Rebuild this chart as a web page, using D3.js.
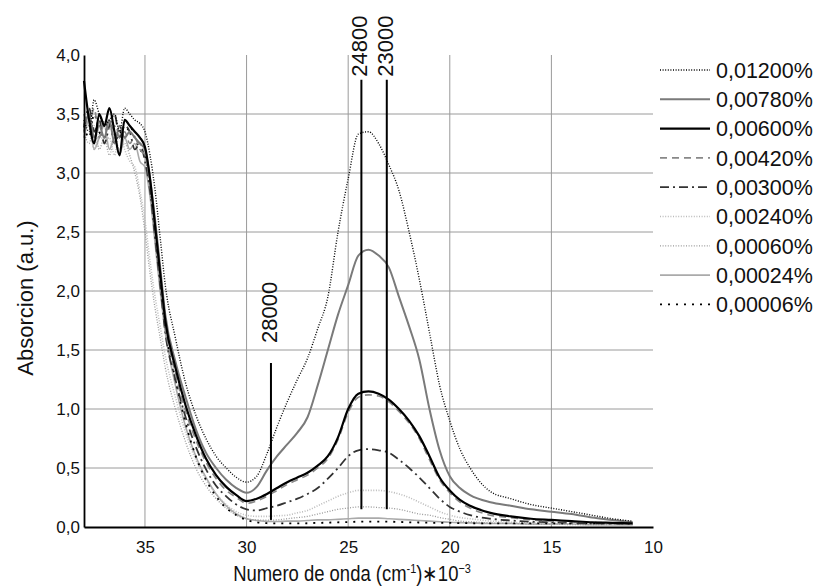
<!DOCTYPE html>
<html lang="es">
<head>
    <meta charset="UTF-8">
    <title>Absorcion</title>
    <script src="https://cdnjs.cloudflare.com/ajax/libs/d3/7.8.5/d3.min.js"></script>
    <style>
        body { margin: 0; background: #fff; }
        svg text { font-family: "Liberation Sans", Arial, sans-serif; fill: #111; }
    </style>
</head>
<body>
<div id="chart"></div>
<script>
// wave numbers (cm-1 * 10^-3)
const waveNumbers = [38, 37.75, 37.5, 37.25, 37, 36.75, 36.5, 36.25, 36, 35.75, 35.5, 35.25, 35,
    34.75, 34.5, 34.25, 34, 33.5, 33, 32.5, 32, 31.5, 31, 30.5, 30, 29.5, 29, 28.5, 28, 27.5, 27,
    26.5, 26, 25.5, 25, 24.5, 24, 23.5, 23, 22.5, 22, 21.5, 21, 20.5, 20, 19.5, 19, 18, 17, 16, 15,
    14, 13, 12, 11];

const seriesNames = ["0,01200%", "0,00780%", "0,00600%", "0,00420%", "0,00300%",
    "0,00240%", "0,00060%", "0,00024%", "0,00006%"];

const s01200 = [3.45, 3.35, 3.62, 3.5, 3.4, 3.45, 3.5, 3.35, 3.55, 3.5, 3.45, 3.42, 3.35,
    3.15, 2.85, 2.45, 2.05, 1.6, 1.22, 0.95, 0.75, 0.6, 0.5, 0.42, 0.38, 0.43, 0.62, 0.85, 1.06, 1.25, 1.43,
    1.68, 1.95, 2.5, 2.95, 3.33, 3.35, 3.25, 3.07, 2.85, 2.5, 2.1, 1.65, 1.2, 0.9, 0.66, 0.5, 0.3, 0.24, 0.19, 0.16,
    0.13, 0.1, 0.07, 0.05];
const s00780 = [3.35, 3.5, 3.3, 3.4, 3.3, 3.45, 3.25, 3.4, 3.3, 3.35, 3.3, 3.25, 3.2,
    2.95, 2.6, 2.2, 1.8, 1.4, 1.1, 0.83, 0.63, 0.5, 0.4, 0.33, 0.29, 0.34, 0.48, 0.6, 0.7, 0.8, 0.93,
    1.2, 1.5, 1.8, 2.05, 2.3, 2.35, 2.3, 2.2, 1.95, 1.7, 1.42, 1.0, 0.65, 0.43, 0.33, 0.27, 0.21, 0.18, 0.15, 0.13,
    0.11, 0.08, 0.06, 0.04];
const s00600 = [3.78, 3.45, 3.25, 3.5, 3.4, 3.55, 3.35, 3.15, 3.45, 3.4, 3.35, 3.3, 3.22,
    2.95, 2.55, 2.15, 1.75, 1.35, 1.03, 0.78, 0.58, 0.44, 0.34, 0.27, 0.22, 0.24, 0.28, 0.33, 0.38, 0.42, 0.46,
    0.52, 0.6, 0.76, 1.0, 1.13, 1.15, 1.13, 1.08, 1.0, 0.9, 0.77, 0.6, 0.42, 0.31, 0.23, 0.18, 0.12, 0.09, 0.07, 0.06,
    0.05, 0.04, 0.035, 0.03];
const s00420 = [3.5, 3.4, 3.55, 3.3, 3.45, 3.35, 3.4, 3.3, 3.35, 3.25, 3.3, 3.2, 3.15,
    2.9, 2.5, 2.1, 1.7, 1.3, 0.98, 0.74, 0.55, 0.41, 0.31, 0.25, 0.2, 0.22, 0.26, 0.31, 0.36, 0.4, 0.44,
    0.5, 0.58, 0.74, 0.97, 1.1, 1.12, 1.11, 1.06, 0.98, 0.88, 0.75, 0.57, 0.4, 0.29, 0.21, 0.16, 0.1, 0.08, 0.06, 0.05,
    0.045, 0.04, 0.035, 0.03];
const s00300 = [3.4, 3.55, 3.35, 3.45, 3.25, 3.4, 3.5, 3.3, 3.4, 3.35, 3.2, 3.25, 3.1,
    2.85, 2.45, 2.05, 1.65, 1.25, 0.93, 0.68, 0.49, 0.35, 0.26, 0.19, 0.15, 0.14, 0.16, 0.18, 0.21, 0.24, 0.28,
    0.33, 0.41, 0.5, 0.6, 0.65, 0.66, 0.65, 0.63, 0.57, 0.5, 0.42, 0.33, 0.24, 0.17, 0.13, 0.1, 0.07, 0.055, 0.045, 0.04,
    0.035, 0.03, 0.03, 0.025];
const s00240 = [3.3, 3.4, 3.2, 3.35, 3.25, 3.3, 3.15, 3.35, 3.2, 3.1, 3.05, 2.85, 2.6,
    2.25, 1.95, 1.7, 1.45, 1.1, 0.8, 0.57, 0.4, 0.28, 0.19, 0.13, 0.1, 0.09, 0.09, 0.095, 0.1, 0.12, 0.14,
    0.18, 0.22, 0.26, 0.29, 0.31, 0.31, 0.31, 0.3, 0.28, 0.25, 0.21, 0.17, 0.13, 0.1, 0.08, 0.07, 0.05, 0.04, 0.035, 0.03,
    0.025, 0.025, 0.02, 0.02];
const s00060 = [3.35, 3.25, 3.4, 3.2, 3.3, 3.15, 3.3, 3.2, 3.25, 3.15, 3.0, 2.8, 2.5,
    2.15, 1.85, 1.6, 1.35, 1.0, 0.72, 0.5, 0.35, 0.24, 0.16, 0.1, 0.07, 0.06, 0.058, 0.06, 0.07, 0.08, 0.09,
    0.11, 0.13, 0.15, 0.16, 0.17, 0.17, 0.165, 0.16, 0.15, 0.13, 0.11, 0.1, 0.08, 0.065, 0.05, 0.045, 0.035, 0.03, 0.025, 0.025,
    0.02, 0.02, 0.02, 0.02];
const s00024 = [3.3, 3.45, 3.2, 3.3, 3.4, 3.2, 3.3, 3.15, 3.3, 3.2, 3.25, 3.1, 3.05,
    2.8, 2.4, 2.0, 1.65, 1.2, 0.85, 0.6, 0.42, 0.28, 0.18, 0.11, 0.07, 0.055, 0.048, 0.046, 0.05, 0.05, 0.055,
    0.06, 0.06, 0.065, 0.07, 0.075, 0.075, 0.075, 0.07, 0.065, 0.06, 0.055, 0.05, 0.045, 0.04, 0.037, 0.035, 0.03, 0.03, 0.025, 0.025,
    0.025, 0.02, 0.02, 0.02];
const s00006 = [3.4, 3.3, 3.5, 3.35, 3.3, 3.45, 3.25, 3.35, 3.3, 3.4, 3.3, 3.2, 3.15,
    2.9, 2.5, 2.1, 1.7, 1.25, 0.88, 0.6, 0.4, 0.26, 0.16, 0.1, 0.06, 0.04, 0.032, 0.03, 0.03, 0.03, 0.032,
    0.035, 0.037, 0.04, 0.042, 0.045, 0.045, 0.045, 0.045, 0.043, 0.04, 0.038, 0.036, 0.035, 0.035, 0.033, 0.032, 0.03, 0.03, 0.03, 0.03,
    0.03, 0.03, 0.03, 0.03];

const seriesValues = [s01200, s00780, s00600, s00420, s00300, s00240, s00060, s00024, s00006];

// marked band positions
const markerLabels = ["28000", "24800", "23000"];
const markerX = [28.8, 24.35, 23.1];
const markerY0 = [0.06, 0.15, 0.15];
const markerY1 = [1.39, 3.79, 3.79];

const xTicks = [35, 30, 25, 20, 15, 10];
const yTicks = [0, 0.5, 1, 1.5, 2, 2.5, 3, 3.5, 4];

const styles = [
    { color: "#000", width: 1.4, dash: "1,1.6" },
    { color: "#7a7a7a", width: 2, dash: null },
    { color: "#000", width: 2.2, dash: null },
    { color: "#888", width: 1.6, dash: "7,5" },
    { color: "#333", width: 1.8, dash: "9,4,2,4" },
    { color: "#bbb", width: 1.6, dash: "1,1.6" },
    { color: "#999", width: 1.3, dash: "1,1.6" },
    { color: "#aaa", width: 1.6, dash: null },
    { color: "#000", width: 1.8, dash: "2,6" }
];

const width = 817, height = 587;
const svg = d3.select("#chart").append("svg")
    .attr("width", width)
    .attr("height", height);

const x = d3.scaleLinear().domain([38, 10]).range([84, 653]);
const y = d3.scaleLinear().domain([0, 4]).range([527, 55]);

// grid
svg.append("g").selectAll("line.h")
    .data(yTicks.filter(d => d > 0 && d < 4))
    .join("line")
    .attr("x1", x(38)).attr("x2", x(10))
    .attr("y1", d => y(d)).attr("y2", d => y(d))
    .attr("stroke", "#9a9a9a").attr("stroke-width", 1);
svg.append("g").selectAll("line.v")
    .data(xTicks.filter(d => d > 10))
    .join("line")
    .attr("x1", d => x(d)).attr("x2", d => x(d))
    .attr("y1", y(0)).attr("y2", y(4))
    .attr("stroke", "#9a9a9a").attr("stroke-width", 1);

// curves
const line = d3.line()
    .x(d => x(d[0]))
    .y(d => y(d[1]))
    .curve(d3.curveMonotoneX);

const order = [7, 6, 5, 8, 4, 3, 1, 2, 0];
order.forEach(i => {
    const st = styles[i];
    svg.append("path")
        .datum(waveNumbers.map((w, k) => [w, seriesValues[i][k]]))
        .attr("d", line)
        .attr("fill", "none")
        .attr("stroke", st.color)
        .attr("stroke-width", st.width)
        .attr("stroke-dasharray", st.dash);
});

// marker lines
markerX.forEach((m, i) => {
    svg.append("line")
        .attr("x1", x(m)).attr("x2", x(m))
        .attr("y1", y(markerY0[i])).attr("y2", y(markerY1[i]))
        .attr("stroke", "#000").attr("stroke-width", 2);
    const tx = x(m) + 6, ty = y(markerY1[i]) - (i === 0 ? 20 : 3);
    svg.append("text")
        .attr("transform", `translate(${tx},${ty}) rotate(-90)`)
        .attr("font-size", 22)
        .text(markerLabels[i]);
});

// axes
const xAxis = d3.axisBottom(x).tickValues(xTicks).tickSize(0).tickPadding(14)
    .tickFormat(d3.format("d"));
const gx = svg.append("g").attr("transform", `translate(0,${y(0)})`).call(xAxis);
gx.select(".domain").attr("stroke", "#000").attr("stroke-width", 2.2);
gx.selectAll("text").attr("font-size", 17).attr("fill", "#111");

const yAxis = d3.axisLeft(y).tickValues(yTicks).tickSize(0).tickPadding(4)
    .tickFormat(d => d3.format(".1f")(d).replace(".", ","));
const gy = svg.append("g").attr("transform", `translate(${x(38)},0)`).call(yAxis);
gy.select(".domain").attr("stroke", "#000").attr("stroke-width", 1.8);
gy.selectAll("text").attr("font-size", 17).attr("fill", "#111");

// axis titles
svg.append("text")
    .attr("transform", `translate(33,298) rotate(-90)`)
    .attr("text-anchor", "middle")
    .attr("font-size", 22)
    .text("Absorcion (a.u.)");

// narrow font look for the x title
const xt = svg.append("text")
    .attr("transform", "translate(352,581) scale(0.84,1)")
    .attr("text-anchor", "middle")
    .attr("font-size", 22);
xt.append("tspan").text("Numero de onda (cm");
xt.append("tspan").attr("dy", -8).attr("font-size", 13).text("-1");
xt.append("tspan").attr("dy", 8).text(")\u221710");
xt.append("tspan").attr("dy", -8).attr("font-size", 13).text("\u22123");

// legend
const legend = svg.append("g");
seriesNames.forEach((name, i) => {
    const ly = 70 + i * 29.3;
    const st = styles[i];
    legend.append("line")
        .attr("x1", 660).attr("x2", 710)
        .attr("y1", ly).attr("y2", ly)
        .attr("stroke", st.color)
        .attr("stroke-width", st.width)
        .attr("stroke-dasharray", st.dash);
    legend.append("text")
        .attr("x", 716).attr("y", ly)
        .attr("dy", "0.36em")
        .attr("font-size", 21.5)
        .text(name);
});
</script>
</body>
</html>
